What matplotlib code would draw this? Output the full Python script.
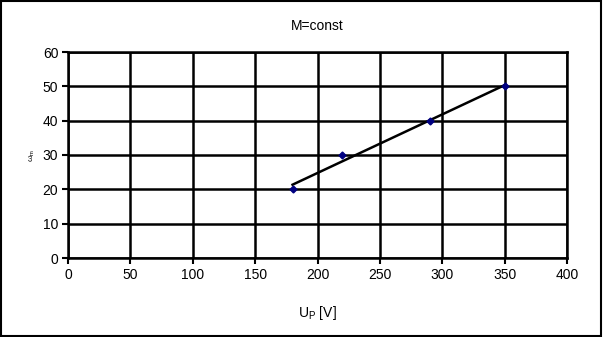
#!/usr/bin/env python3
"""Speed vs armature voltage at constant torque."""

import matplotlib
matplotlib.use("Agg")
import matplotlib.pyplot as plt
import numpy as np
from matplotlib.patches import Rectangle

u_p = [180, 220, 290, 350]
omega = [20, 30, 40, 50]

plt.rcParams["font.family"] = ["Liberation Sans", "DejaVu Sans"]

fig = plt.figure(figsize=(6.03, 3.37), dpi=100)
ax = fig.add_axes([68 / 603, 1 - 258 / 337, (567 - 68) / 603, (258 - 52) / 337])

# linear trendline, like the spreadsheet one
k, b = np.polyfit(u_p, omega, 1)
xs = np.array([min(u_p), max(u_p)])
ax.plot(xs, k * xs + b, color="black", lw=1.8, zorder=3)
ax.plot(u_p, omega, linestyle="none", marker="D", ms=3.5, color="#000080", zorder=4)

ax.set_xlim(0, 400)
ax.set_ylim(0, 60)
ax.set_xticks(range(0, 401, 50))
ax.set_yticks(range(0, 61, 10))
ax.grid(True, color="black", lw=1.8)
ax.set_axisbelow(True)
for s in ax.spines.values():
    s.set_linewidth(1.8)
ax.tick_params(direction="out", length=4, width=1.5, labelsize=10, pad=3)

ax.set_title("M=const", fontsize=10, pad=16)
ax.set_xlabel("U$_\\mathregular{P}$ [V]", fontsize=10, labelpad=16)
ax.set_ylabel("ω$_\\mathregular{m}$", fontsize=6, labelpad=4)

fig.patches.append(Rectangle((0.002, 0.003), 0.995, 0.994, transform=fig.transFigure,
                             fill=False, ec="black", lw=1.5))

fig.savefig("out.png", dpi=100)
